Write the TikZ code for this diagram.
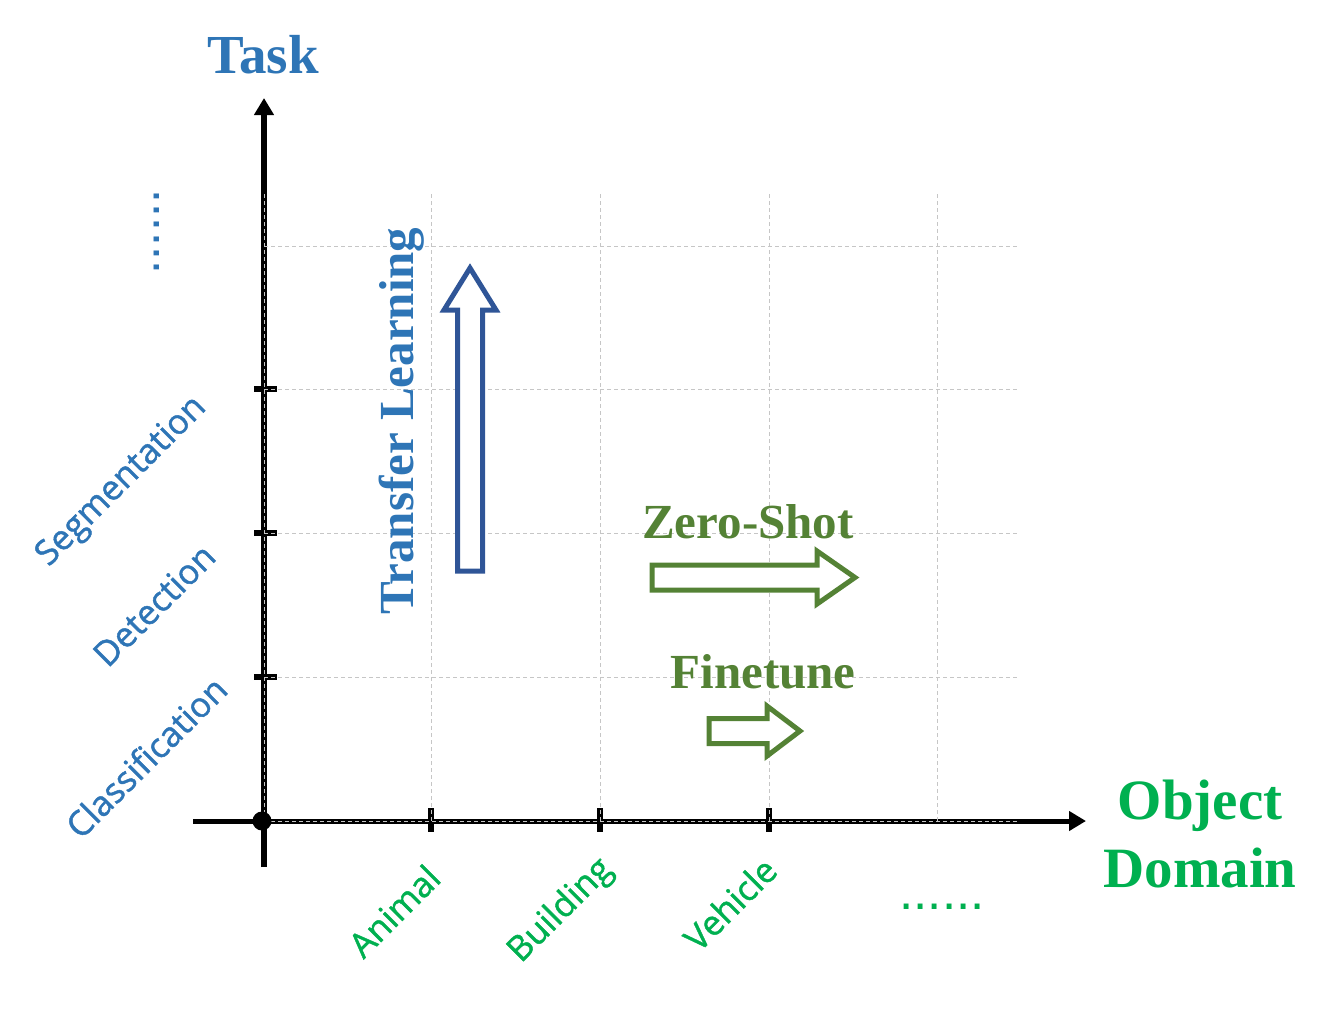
\documentclass[tikz,border=0pt]{standalone}
\usepackage{fontspec}
\setmainfont{Liberation Serif}
\newfontfamily\labfont[FakeBold=1.3]{Open Sans}
\newfontfamily\dotfont{Liberation Sans}
\usetikzlibrary{arrows.meta}
\definecolor{taskblue}{HTML}{2E75B6}
\definecolor{arrowblue}{HTML}{2F5597}
\definecolor{oliv}{HTML}{548235}
\definecolor{brightgreen}{HTML}{00B050}
\tikzset{
  gridline/.style={draw=gray!45, line width=0.8pt, dash pattern=on 4pt off 3pt},
  axisline/.style={draw=black, line width=5.5pt},
  tickmark/.style={draw=black, line width=6pt},
  titletext/.style={font=\bfseries\fontsize{55}{60}\selectfont, inner sep=0pt},
  methodtext/.style={font=\bfseries\fontsize{49}{55}\selectfont, text=oliv, inner sep=0pt},
  cattext/.style={font=\labfont\fontsize{34.5}{38}\selectfont, inner sep=0pt, rotate=45},
  dotstext/.style={font=\dotfont\fontsize{51}{56}\selectfont, inner sep=0pt, anchor=base},
  blockarrow/.style={line width=5pt, line join=miter, fill=white}
}
\begin{document}
\begin{tikzpicture}[x=1pt,y=-1pt]
\useasboundingbox (0,0) rectangle (1335,1010);
% coordinates
\coordinate (O) at (264,821);
\coordinate (ybot) at (264,867);
\coordinate (ytop) at (264,98);
\coordinate (xleft) at (193,821);
\coordinate (xright) at (1086,821);
% axes
\draw[axisline, -{Triangle[length=17pt,width=19pt]}] (ybot) -- (ytop);
\draw[axisline, line width=5pt, -{Triangle[length=17pt,width=19pt]}] (xleft) -- (xright);
% ticks
\foreach \yy in {389,533,677} \draw[tickmark] (254,\yy) -- (277,\yy);
\foreach \xx in {431,600,769} \draw[tickmark] (\xx,808) -- (\xx,832);
% grid
\foreach \xx in {264,431,600,769,937} \draw[gridline] (\xx,194) -- (\xx,821);
\foreach \yy in {246,389,533,677,821} \draw[gridline] (264,\yy) -- (1017,\yy);
% origin dot
\fill[black] (262,821) circle (9.5pt);
% titles
\node[titletext, text=taskblue] (task) at (263,55) {Task};
\node[titletext, text=brightgreen, align=center, font=\bfseries\fontsize{57}{68}\selectfont] (obj) at (1200,834) {Object\\Domain};
% transfer learning
\node[titletext, text=taskblue, rotate=90, font=\bfseries\fontsize{49}{54}\selectfont] (tl) at (402,421) {Transfer Learning};
\draw[blockarrow, draw=arrowblue] (457.5,571) -- (457.5,310) -- (444,310) -- (470,268) -- (496,310) -- (482.5,310) -- (482.5,571) -- cycle;
% zero-shot
\node[methodtext] (zs) at (748,522) {Zero-Shot};
\draw[blockarrow, draw=oliv] (652,565) -- (817,565) -- (817,551) -- (855,577.5) -- (817,604) -- (817,590) -- (652,590) -- cycle;
% finetune
\node[methodtext] (ft) at (763,672) {Finetune};
\draw[blockarrow, draw=oliv] (709,718.5) -- (767,718.5) -- (767,706) -- (800,731) -- (767,756) -- (767,743.5) -- (709,743.5) -- cycle;
% task categories
\node[cattext, text=taskblue] (seg) at (122,482) {Segmentation};
\node[cattext, text=taskblue] (det) at (154,605) {Detection};
\node[cattext, text=taskblue] (cls) at (146,757) {Classification};
\node[dotstext, text=taskblue, rotate=90] (tdots) at (159,232) {......};
% domain categories
\node[cattext, text=brightgreen] (ani) at (394,911) {Animal};
\node[cattext, text=brightgreen] (bld) at (561,911) {Building};
\node[cattext, text=brightgreen] (veh) at (730,904) {Vehicle};
\node[dotstext, text=brightgreen] (odots) at (942,909) {......};
\end{tikzpicture}
\end{document}
